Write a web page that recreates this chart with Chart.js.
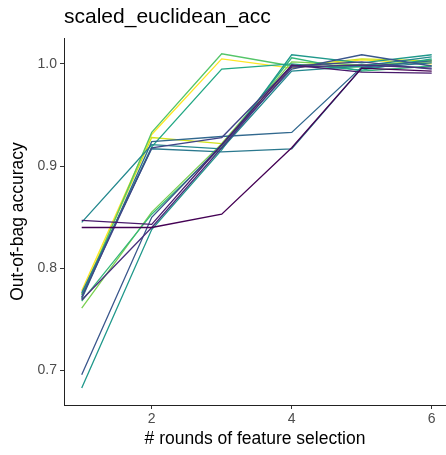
<!DOCTYPE html>
<html>
<head>
<meta charset="utf-8">
<script src="https://cdn.jsdelivr.net/npm/chart.js@4/dist/chart.umd.min.js"></script>
<style>
  html, body { margin: 0; padding: 0; background: #ffffff; }
  #wrap { width: 446px; height: 455px; }
</style>
</head>
<body>
<div id="wrap"><canvas id="c" width="446" height="455"></canvas></div>
<script>
// Number of feature-selection rounds (x) and axis ticks
const rounds = [1, 2, 3, 4, 5, 6];
const xTicks = [2, 4, 6];
const yTicks = [0.7, 0.8, 0.9, 1.0];

// Out-of-bag accuracy per run, one value per round
const run01 = [0.840, 0.840, 0.853, 0.918, 0.996, 0.993];
const run02 = [0.847, 0.843, 0.921, 0.999, 0.992, 0.991];
const run03 = [0.769, 0.840, 0.918, 0.997, 0.999, 0.996];
const run04 = [0.772, 0.918, 0.928, 0.998, 1.002, 0.995];
const run05 = [0.696, 0.850, 0.921, 0.995, 1.009, 0.998];
const run06 = [0.770, 0.924, 0.929, 0.933, 0.997, 1.003];
const run07 = [0.776, 0.917, 0.914, 0.917, 0.996, 1.001];
const run08 = [0.845, 0.921, 0.917, 0.993, 0.998, 1.007];
const run09 = [0.683, 0.838, 0.916, 1.009, 1.001, 1.009];
const run10 = [0.774, 0.919, 0.995, 1.000, 0.994, 1.005];
const run11 = [0.768, 0.853, 0.919, 1.006, 0.993, 0.998];
const run12 = [0.771, 0.933, 1.010, 0.998, 0.997, 1.004];
const run13 = [0.761, 0.855, 0.922, 1.002, 0.999, 1.002];
const run14 = [0.775, 0.928, 0.922, 0.998, 1.005, 1.003];
const run15 = [0.778, 0.931, 1.005, 0.996, 1.004, 1.000];

const runs = [run01, run02, run03, run04, run05, run06, run07, run08,
              run09, run10, run11, run12, run13, run14, run15];

// viridis palette, one colour per run
const runColors = ['#440154', '#481A6C', '#472F7D', '#414487', '#39568C',
                   '#31688E', '#2A788E', '#23888E', '#1F988B', '#22A884',
                   '#35B779', '#54C568', '#7AD151', '#D2E21B', '#FDE725'];

Chart.defaults.font.family = '"Liberation Sans", Arial, Helvetica, sans-serif';

const datasets = runs.map((vals, i) => ({
  label: 'run ' + (i + 1),
  data: rounds.map((r, j) => ({ x: r, y: vals[j] })),
  borderColor: runColors[i],
  backgroundColor: runColors[i],
  borderWidth: 1.3,
  pointRadius: 0,
  pointHoverRadius: 0,
  tension: 0,
  fill: false
}));

new Chart(document.getElementById('c'), {
  type: 'line',
  data: { datasets },
  options: {
    responsive: false,
    animation: false,
    devicePixelRatio: 1,
    layout: { padding: 0 },
    plugins: {
      legend: { display: false },
      tooltip: { enabled: false },
      title: {
        display: true,
        text: 'scaled_euclidean_acc',
        align: 'start',
        fullSize: false,
        color: '#000000',
        font: { size: 21, weight: 'normal' },
        padding: { top: 4.8, bottom: 8 }
      }
    },
    scales: {
      x: {
        type: 'linear',
        min: 0.747,
        max: 6.204,
        afterBuildTicks: s => { s.ticks = xTicks.map(v => ({ value: v })); },
        afterFit: s => { s.height = 50; },
        ticks: {
          color: '#4D4D4D',
          font: { size: 14 },
          padding: 2,
          autoSkip: false,
          maxRotation: 0
        },
        grid: { drawOnChartArea: false, tickLength: 4, color: '#333333', lineWidth: 1 },
        border: { display: true, color: '#222222', width: 1 },
        title: {
          display: true,
          text: '# rounds of feature selection',
          color: '#000000',
          font: { size: 17.5 },
          padding: { top: 0, bottom: 5.5 }
        }
      },
      y: {
        type: 'linear',
        min: 0.6663,
        max: 1.0254,
        afterBuildTicks: s => { s.ticks = yTicks.map(v => ({ value: v })); },
        afterFit: s => { s.width = 64; },
        ticks: {
          color: '#4D4D4D',
          font: { size: 14 },
          padding: 3,
          callback: v => v.toFixed(1)
        },
        grid: { drawOnChartArea: false, tickLength: 4, color: '#333333', lineWidth: 1 },
        border: { display: true, color: '#222222', width: 1 },
        title: {
          display: true,
          text: 'Out-of-bag accuracy',
          color: '#000000',
          font: { size: 17.5 },
          padding: { top: 7.5, bottom: 0 }
        }
      }
    }
  }
});
</script>
</body>
</html>
